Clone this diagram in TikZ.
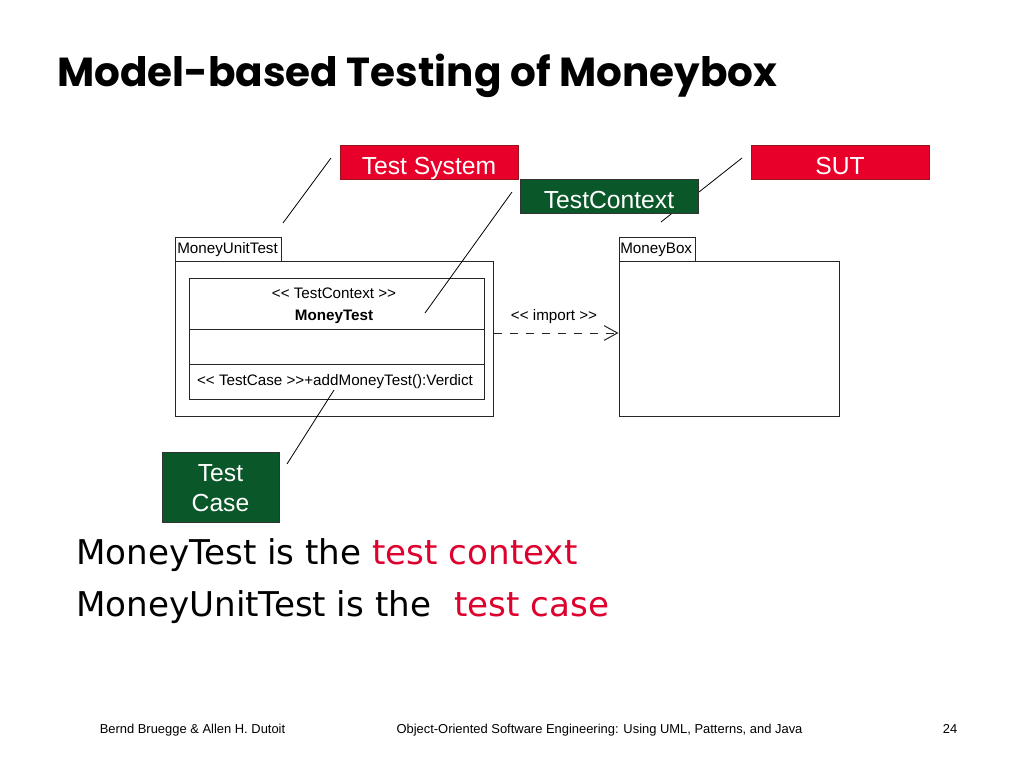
\documentclass[tikz,border=0pt]{standalone}
\usepackage{fontspec}
\setmainfont{Liberation Sans}
\newfontfamily\umlfont{Liberation Sans}[Ligatures=TeXOff]
\newfontfamily\titlefont{Poppins}
\newfontfamily\bodyfont{DejaVu Sans}
\usetikzlibrary{arrows.meta}
\definecolor{labred}{RGB}{232,0,42}
\definecolor{labredborder}{RGB}{150,20,30}
\definecolor{labgreen}{RGB}{10,88,42}
\definecolor{txtred}{RGB}{222,0,45}
\tikzset{
  lab/.style={inner sep=0pt, text=white, font=\fontsize{18.5}{21}\selectfont, text height=18.4pt, text depth=0pt, minimum width=133.5pt, minimum height=25.5pt, draw=black!70, line width=0.6pt},
  redlab/.style={lab, fill=labred, draw=labredborder},
  greenlab/.style={lab, fill=labgreen, draw=black!80},
  umlbox/.style={draw=black!85, line width=0.75pt, inner sep=0pt, fill=white},
  umltext/.style={inner sep=0pt, font=\umlfont\fontsize{11.4}{13}\selectfont},
  leader/.style={draw=black, line width=0.6pt},
  bodytext/.style={inner sep=0pt, anchor=base west, font=\bodyfont\fontsize{25.6}{30}\selectfont},
  foot/.style={inner sep=0pt, anchor=base, font=\fontsize{9.7}{11}\selectfont}
}
\begin{document}
\begin{tikzpicture}[x=0.75pt,y=-0.75pt]
\useasboundingbox[fill=white] (0,0) rectangle (1024,768);

% title
\node[inner sep=0pt, anchor=base west, font=\titlefont\bfseries\fontsize{30.4}{36}\selectfont] (title) at (57,86) {Model-based Testing of Moneybox};

% leader line to SUT (drawn first, passes behind TestContext)
\coordinate (sutA) at (742,158);
\coordinate (sutB) at (661,222);
\draw[leader] (sutA) -- (sutB);

% UML: MoneyUnitTest package
\node[umlbox, minimum width=79.5pt, minimum height=18pt] (tab1) at (228,249) {};
\node[umltext, anchor=west] (tab1t) at (177,250) {MoneyUnitTest};
\node[umlbox, minimum width=238.5pt, minimum height=116.25pt] (outer1) at (334,338.5) {};
\node[umlbox, minimum width=221.25pt, minimum height=90.75pt] (inner) at (336.5,338.5) {};
\draw[umlbox] (189,329) -- (484,329);
\draw[umlbox] (189,364) -- (484,364);
\node[umltext] (stereo) at (334,293) {<< TestContext >>};
\node[umltext, font=\umlfont\bfseries\fontsize{11.4}{13}\selectfont] (cname) at (334,317) {MoneyTest};
\node[umltext] (op) at (335,382) {<< TestCase >>+addMoneyTest():Verdict};

% UML: MoneyBox package
\node[umlbox, minimum width=57pt, minimum height=18pt] (tab2) at (657,249) {};
\node[umltext, anchor=west] (tab2t) at (620,250) {MoneyBox};
\node[umlbox, minimum width=165pt, minimum height=116.25pt] (outer2) at (729,338.5) {};

% import dependency
\coordinate (imp) at (0,333);
\draw[black!85, line width=0.75pt, dash pattern=on 6pt off 6pt, -{Straight Barb[length=10pt,width=11pt,line width=0.75pt]}] (outer1.east |- imp) -- (outer2.west |- imp);
\node[umltext] (implab) at (554,317) {<< import >>};

% leader lines
\coordinate (tsA) at (331,158);
\coordinate (tsB) at (283,223);
\draw[leader] (tsA) -- (tsB);
\coordinate (tcA) at (512,192);
\coordinate (tcB) at (425,313);
\draw[leader] (tcA) -- (tcB);
\coordinate (caseA) at (334,390);
\coordinate (caseB) at (287,464);
\draw[leader] (caseA) -- (caseB);

% labels
\node[redlab] (testsystem) at (429,162) {Test System};
\node[greenlab] (testcontext) at (609,196) {TestContext};
\node[redlab] (sut) at (840,162) {SUT};
\node[fill=labgreen, draw=black!80, line width=0.6pt, text=white, inner sep=0pt, minimum width=87.75pt, minimum height=52.5pt, align=center, font=\fontsize{18.5}{22.5}\selectfont] (testcase) at (220.5,487) {\rule{0pt}{15pt}Test\\Case};

% body text
\node[bodytext] (line1) at (76,564) {MoneyTest is the \textcolor{txtred}{test context}};
\node[bodytext] (line2) at (76,616) {MoneyUnitTest is the};
\node[bodytext, text=txtred] (line2b) at (454,616) {test case};

% footer
\node[foot] (f1) at (192.5,733) {Bernd Bruegge \& Allen H. Dutoit};
\node[foot] (f2) at (599.5,733) {Object-Oriented Software Engineering: Using UML, Patterns, and Java};
\node[foot] (f3) at (950,733) {24};
\end{tikzpicture}
\end{document}
